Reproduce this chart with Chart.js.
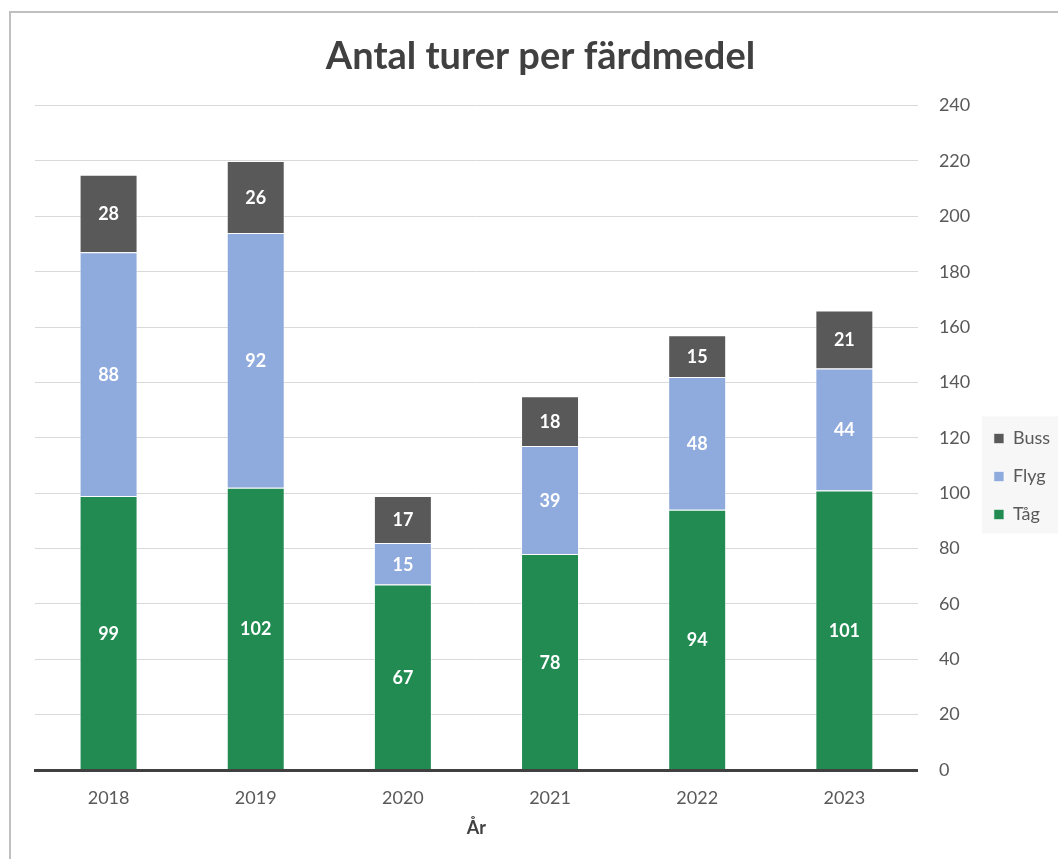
<!DOCTYPE html>
<html lang="sv">
<head>
    <meta charset="UTF-8">
    <title>Antal turer per färdmedel</title>
    <script src="https://cdn.jsdelivr.net/npm/chart.js"></script>
    <style>
        html, body { margin: 0; padding: 0; background: #fff; overflow: hidden; }
        #wrap { position: relative; width: 1058px; height: 859px; }
        #frame {
            position: absolute; left: 9px; top: 11px; width: 1100px; height: 900px;
            border-left: 2px solid #bfbfbf; border-top: 2px solid #bfbfbf;
            pointer-events: none;
        }
    </style>
</head>
<body>
<div id="wrap">
    <canvas id="chart"></canvas>
    <div id="frame"></div>
</div>
<script>
    // data
    var years = ['2018', '2019', '2020', '2021', '2022', '2023'];
    var tag   = [99, 102, 67, 78, 94, 101];
    var flyg  = [88, 92, 15, 39, 48, 44];
    var buss  = [28, 26, 17, 18, 15, 21];

    var FONT = 'Lato, "Open Sans", sans-serif';

    // white numbers in the middle of every segment
    var segmentLabels = {
        id: 'segmentLabels',
        afterDatasetsDraw: function (chart) {
            var ctx = chart.ctx;
            ctx.save();
            ctx.fillStyle = '#ffffff';
            ctx.font = 'bold 18px ' + FONT;
            ctx.textAlign = 'center';
            ctx.textBaseline = 'middle';
            chart.data.datasets.forEach(function (ds, i) {
                var meta = chart.getDatasetMeta(i);
                meta.data.forEach(function (bar, j) {
                    var p = bar.getProps(['x', 'y', 'base'], true);
                    ctx.fillText(ds.data[j], p.x, (p.y + p.base) / 2 + 1);
                });
            });
            ctx.restore();
        }
    };

    // move legend down a bit, give it a light background, nudge title left
    var legendBox = {
        id: 'legendBox',
        afterLayout: function (chart) {
            var lg = chart.legend;
            lg.top += 57;
            lg.bottom += 57;
            var tb = chart.titleBlock;
            if (tb) { tb.left -= 7; tb.right -= 7; }
        },
        beforeDraw: function (chart) {
            var boxes = chart.legend.legendHitBoxes;
            if (!boxes || !boxes.length) return;
            var top = Math.min.apply(null, boxes.map(function (b) { return b.top; }));
            var bottom = Math.max.apply(null, boxes.map(function (b) { return b.top + b.height; }));
            var ctx = chart.ctx;
            ctx.save();
            ctx.fillStyle = '#f7f7f7';
            ctx.fillRect(boxes[0].left - 12, top - 13, 90, bottom - top + 23);
            ctx.restore();
        }
    };

    new Chart(document.getElementById('chart'), {
        type: 'bar',
        data: {
            labels: years,
            datasets: [
                { label: 'Tåg',  data: tag,  backgroundColor: '#218b52' },
                { label: 'Flyg', data: flyg, backgroundColor: '#8faadc' },
                { label: 'Buss', data: buss, backgroundColor: '#595959' }
            ]
        },
        options: {
            responsive: true,
            maintainAspectRatio: false,
            animation: false,
            layout: { padding: { left: 35, right: -2, bottom: 20 } },
            datasets: {
                bar: {
                    barPercentage: 0.394,
                    categoryPercentage: 1,
                    borderColor: 'rgba(255,255,255,0.55)',
                    borderWidth: 1
                }
            },
            plugins: {
                title: {
                    display: true,
                    text: 'Antal turer per färdmedel',
                    color: '#404040',
                    font: { family: FONT, size: 38, weight: 'bold' },
                    padding: { top: 34, bottom: 26 }
                },
                legend: {
                    position: 'right',
                    reverse: true,
                    labels: {
                        boxWidth: 10,
                        boxHeight: 10,
                        padding: 20,
                        color: '#595959',
                        font: { family: FONT, size: 18 }
                    }
                },
                tooltip: { enabled: false }
            },
            scales: {
                x: {
                    stacked: true,
                    grid: { display: false, drawTicks: false },
                    border: { display: true, color: '#404040', width: 3, z: 1 },
                    ticks: { color: '#595959', padding: 17, font: { family: FONT, size: 18 } },
                    title: {
                        display: true,
                        text: 'År',
                        color: '#404040',
                        font: { family: FONT, size: 18, weight: 'bold' },
                        padding: { top: 10, bottom: 0 }
                    },
                    afterFit: function (s) { s.height = 69; }
                },
                y: {
                    stacked: true,
                    position: 'right',
                    min: 0,
                    max: 240,
                    grid: { color: '#d9d9d9', drawTicks: false },
                    border: { display: false },
                    ticks: { stepSize: 20, padding: 21, color: '#595959', font: { family: FONT, size: 18 } },
                    afterFit: function (s) { s.width = 56; }
                }
            }
        },
        plugins: [segmentLabels, legendBox]
    });
</script>
</body>
</html>
